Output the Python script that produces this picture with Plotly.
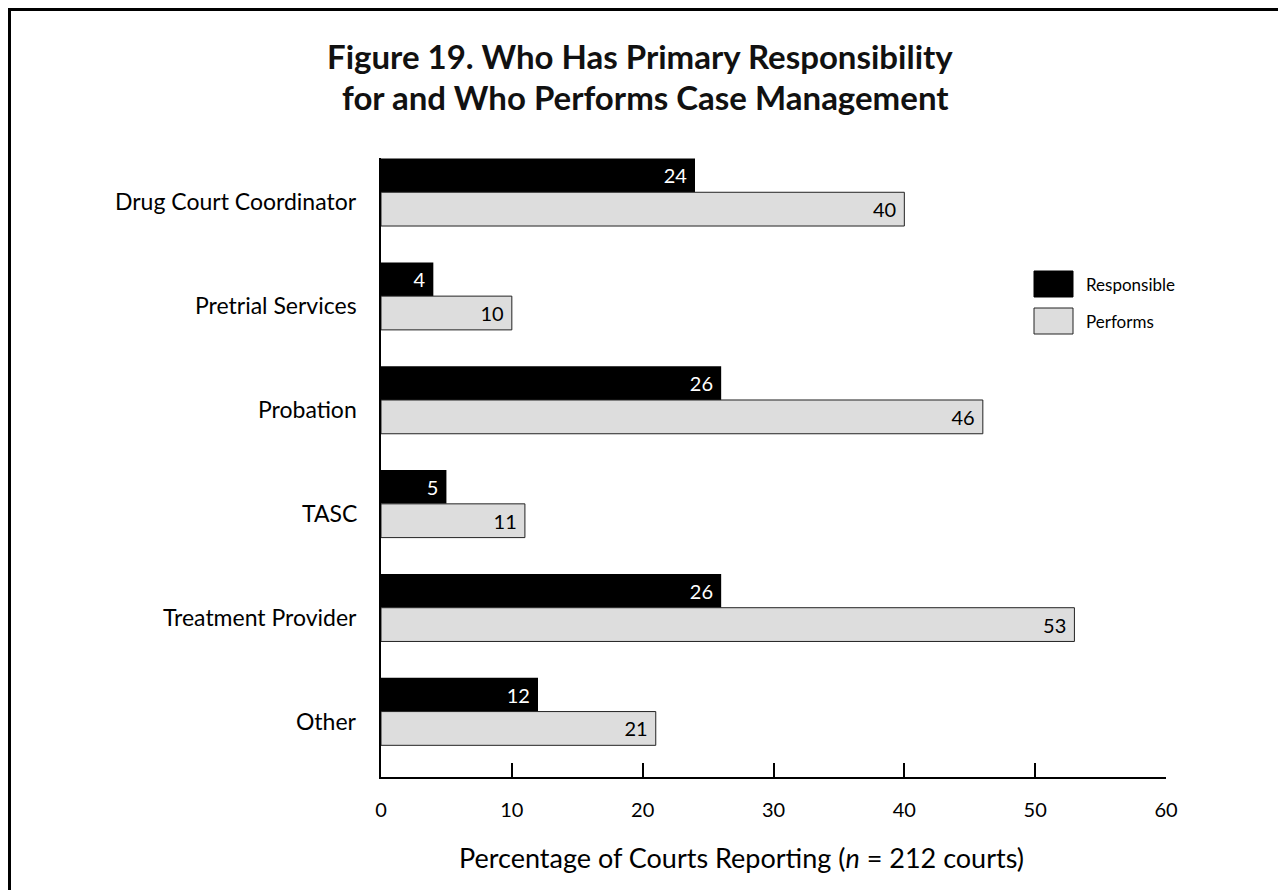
import plotly.graph_objects as go

categories = ["Drug Court Coordinator", "Pretrial Services", "Probation", "TASC",
              "Treatment Provider", "Other"]
responsible = [24, 4, 26, 5, 26, 12]
performs = [40, 10, 46, 11, 53, 21]
x_ticks = [0, 10, 20, 30, 40, 50, 60]

# page body has an 8px margin, so work in window pixels and shift
OFF = 8
W, H = 1286 - OFF, 890 - OFF
L, R, T, B = 381 - OFF, 120, 158 - OFF, 890 - 777
pw, ph = W - L - R, H - T - B

def px(x):
    # window pixel -> paper x
    return (x - OFF - L) / pw

def py(y):
    # window pixel -> paper y
    return (T + ph - (y - OFF)) / ph

FONT = "Lato"

fig = go.Figure()
fig.add_trace(go.Bar(
    y=categories, x=responsible, orientation="h", name="Responsible",
    marker=dict(color="black", line=dict(color="black", width=0)),
    text=[str(v) + "\u00a0" for v in responsible], textposition="inside",
    insidetextanchor="end", textangle=0,
    textfont=dict(color="white", size=20, family=FONT), showlegend=False))
fig.add_trace(go.Bar(
    y=categories, x=performs, orientation="h", name="Performs",
    marker=dict(color="#dddddd", line=dict(color="#222222", width=1)),
    text=[str(v) + "\u00a0" for v in performs], textposition="inside",
    insidetextanchor="end", textangle=0,
    textfont=dict(color="black", size=20, family=FONT), showlegend=False))

fig.update_layout(
    width=W, height=H,
    margin=dict(l=L, r=R, t=T, b=B),
    paper_bgcolor="white", plot_bgcolor="white",
    barmode="group", bargap=0.35, bargroupgap=0,
    font=dict(family=FONT, color="black"),
    xaxis=dict(range=[0, 60], tickvals=x_ticks, showgrid=False, zeroline=False,
               showline=True, linecolor="black", linewidth=2,
               ticks="inside", ticklen=14, tickwidth=2, tickcolor="black",
               tickfont=dict(size=20, family=FONT), ticklabelstandoff=14),
    yaxis=dict(categoryorder="array", categoryarray=categories,
               range=[5.63, -0.33], showgrid=False, zeroline=False,
               showline=True, linecolor="black", linewidth=2, ticks="",
               showticklabels=False),
)

# category labels, sitting a little below the centre of each bar pair
for c in categories:
    fig.add_annotation(xref="x", yref="y", x=0, y=c, text=c, showarrow=False,
                       xanchor="right", yanchor="middle", xshift=-22, yshift=-9,
                       font=dict(size=23, family=FONT))

# title, two lines
fig.add_annotation(xref="paper", yref="paper", x=px(640), y=py(56),
                   text="<b>Figure 19. Who Has Primary Responsibility</b>",
                   showarrow=False, xanchor="center", yanchor="middle",
                   font=dict(size=33, family=FONT, color="#111111"))
fig.add_annotation(xref="paper", yref="paper", x=px(645), y=py(97),
                   text="<b>for and Who Performs Case Management</b>",
                   showarrow=False, xanchor="center", yanchor="middle",
                   font=dict(size=33, family=FONT, color="#111111"))

# x axis title
fig.add_annotation(xref="paper", yref="paper", x=px(741), y=py(857),
                   text="Percentage of Courts Reporting (<i>n</i> = 212 courts)",
                   showarrow=False, xanchor="center", yanchor="middle",
                   font=dict(size=27, family=FONT))

# legend swatches
fig.add_shape(type="rect", xref="paper", yref="paper",
              x0=px(1034), x1=px(1073), y0=py(297), y1=py(271),
              fillcolor="black", line=dict(color="black", width=1))
fig.add_shape(type="rect", xref="paper", yref="paper",
              x0=px(1034), x1=px(1073), y0=py(334), y1=py(308),
              fillcolor="#dddddd", line=dict(color="#222222", width=1))
fig.add_annotation(xref="paper", yref="paper", x=px(1084), y=py(284),
                   text="Responsible", showarrow=False, xanchor="left",
                   yanchor="middle", font=dict(size=17, family=FONT))
fig.add_annotation(xref="paper", yref="paper", x=px(1084), y=py(321),
                   text="Performs", showarrow=False, xanchor="left",
                   yanchor="middle", font=dict(size=17, family=FONT))

# outer frame
fig.add_shape(type="rect", xref="paper", yref="paper",
              x0=px(9.5), x1=px(1284.5), y0=py(900), y1=py(9.5),
              line=dict(color="black", width=3), fillcolor="rgba(0,0,0,0)")

fig.write_html("out.html")
